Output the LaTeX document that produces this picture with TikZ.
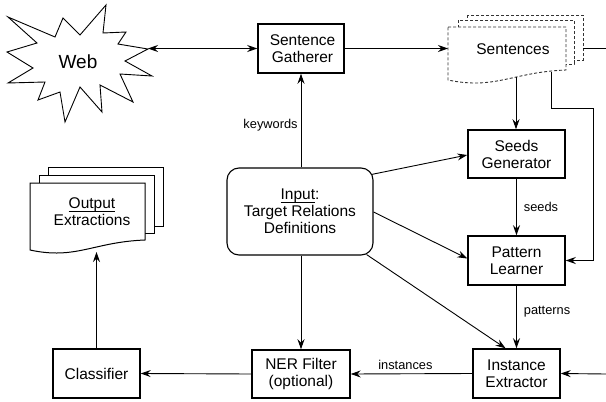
\documentclass[tikz,border=0pt]{standalone}
\usepackage{fontspec}
\setmainfont{Liberation Sans}
\usetikzlibrary{arrows.meta,calc}

% document shape with a wavy bottom edge: left, top, right, bottom (at right side)
\newcommand{\docoutline}[4]{(#1,#2) -- (#3,#2) -- (#3,#4)
  .. controls ({#3-0.45*(#3-#1)},{#4+2}) and ({#1+0.4*(#3-#1)},{#4+20}) .. (#1,{#4+10}) -- cycle}

% close underline, just under the descenders
\newcommand{\ulword}[1]{\setbox0=\hbox{#1}\rlap{\rule[-3.4pt]{\wd0}{0.8pt}}\box0}

\tikzset{
  procbox/.style={draw, line width=1.5pt, align=center, inner sep=0pt,
    font=\fontsize{15.5}{17}\selectfont},
  flow/.style={draw, line width=0.9pt, ->},
  plain/.style={draw, line width=0.9pt},
  lbl/.style={font=\fontsize{12.8}{14}\selectfont, inner sep=0pt},
  doc/.style={draw, line width=1pt, fill=white},
  dashdoc/.style={draw=black!80, line width=0.9pt, fill=white, dash pattern=on 3pt off 2pt},
}

\begin{document}
\begin{tikzpicture}[x=1pt, y=-1pt,
  >={Stealth[length=10pt,width=7pt,inset=3.5pt]}]
\useasboundingbox (0,0) rectangle (606,402);

% the Web starburst
\draw[line width=0.9pt, fill=white]
  (8,17) -- (55,37) -- (63,18) -- (80,35) -- (106,5) -- (103,33) -- (126,32)
  -- (118,44) -- (148,49) -- (125,61) -- (152,76) -- (120,74) -- (133,102)
  -- (100,85) -- (102,112) -- (80,87) -- (65,122) -- (60,92) -- (38,100)
  -- (45,82) -- (8,83) -- (33,68) -- (7,52) -- (37,43) -- cycle;
\node[font=\fontsize{19}{21}\selectfont] (web) at (78,62) {Web};
\coordinate (webtip) at (148,48.5);

% processing boxes
\node[procbox, minimum width=86pt, minimum height=49pt] (gath) at (301,48.5) {\hspace*{3pt}Sentence\\\hspace*{3pt}Gatherer};
\node[procbox, minimum width=97pt, minimum height=48pt] (seeds) at (516.5,154) {Seeds\\Generator};
\node[procbox, minimum width=97pt, minimum height=49pt] (patt) at (516.5,260.5) {Pattern\\Learner};
\node[procbox, minimum width=87pt, minimum height=49pt] (inst) at (516.5,373.5) {Instance\\Extractor};
\node[procbox, minimum width=98pt, minimum height=48pt] (ner) at (301,374) {NER Filter\\(optional)};
\node[procbox, minimum width=87pt, minimum height=49pt] (cls) at (96.5,373.5) {Classifier};
\node[procbox, line width=1.1pt, rounded corners=12pt, minimum width=146pt, minimum height=87pt]
  (inp) at (300,211.5) {\ulword{Input}:\\Target Relations\\Definitions};

% Sentences: stacked dashed documents
\draw[dashdoc] (467,15) rectangle (583,60);
\draw[dashdoc] (458,20) rectangle (574,64);
\draw[dashdoc] \docoutline{448}{27}{566}{70};
\node[font=\fontsize{15.5}{17}\selectfont] (sent) at (513,49) {Sentences};
\coordinate (sentW) at (448,48.5);
\coordinate (sentE) at (583,48.5);
\coordinate (sentB1) at (516,77);
\coordinate (sentB2) at (551,72);

% Output Extractions: stacked documents
\draw[doc] (48,167) rectangle (163,226);
\draw[doc] (39,175) rectangle (154,233);
\draw[doc] \docoutline{30}{183}{145}{240};
\node[font=\fontsize{15.5}{17}\selectfont, align=center] (out) at (92,212) {\ulword{Output}\\Extractions};
\coordinate (outB) at (96.5,252);

% off-picture continuations on the right
\coordinate (edgeTop) at (606,48.5);
\coordinate (edgeBot) at (606,374);

% connectors
\draw[flow, <->] (webtip) -- (gath.west);
\draw[flow] (gath.east) -- (sentW);
\draw[plain] (sentE) -- (edgeTop);
\draw[flow] (sentB1) -- (sentB1 |- seeds.north);
\draw[flow] (sentB2) -- (551,108) -- (593,108) -- (593,260.5) -- (patt.east);

\draw[flow] (inp.north -| gath.south) -- node[lbl, anchor=east, xshift=-3pt, pos=0.45] {keywords} (gath.south);
\draw[flow] ($(inp.north east)+(-2,7)$) -- ($(seeds.west)+(0,1)$);
\draw[flow] ($(inp.east)+(0,0.5)$) -- ($(patt.west)+(0,-2)$);
\draw[flow] ($(inp.south east)+(-7,-1)$) -- ($(inst.north)+(-11,0)$);
\draw[flow] (inp.south -| ner.north) -- (ner.north);

\draw[flow] (seeds.south) -- node[lbl, anchor=west, xshift=7pt] {seeds} (patt.north);
\draw[flow] (patt.south) -- node[lbl, anchor=west, xshift=7pt, pos=0.42] {patterns} (inst.north);
\draw[flow] (edgeBot) -- (inst.east);
\draw[flow] (inst.west) -- node[lbl, above=4pt, pos=0.55] {instances} (ner.east);
\draw[flow] (ner.west) -- (cls.east);
\draw[flow] (cls.north) -- (outB);
\end{tikzpicture}
\end{document}
